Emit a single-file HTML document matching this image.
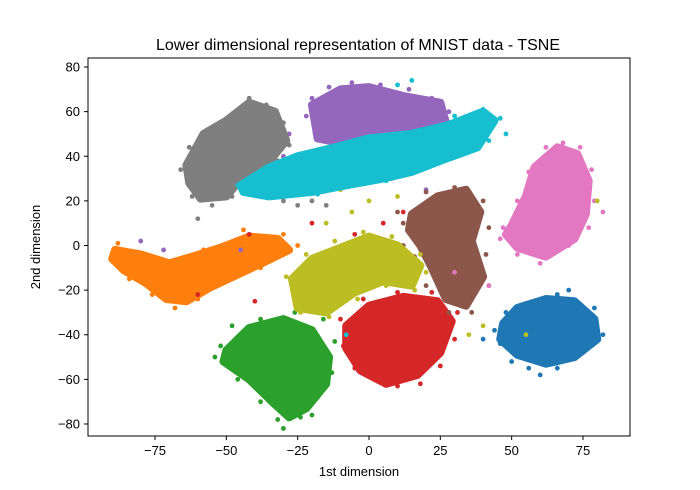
<!DOCTYPE html>
<html><head><meta charset="utf-8"><style>
html,body{margin:0;padding:0;background:#fff;}
svg{display:block;font-family:"Liberation Sans","DejaVu Sans",sans-serif;}
</style></head><body>
<svg id="chart" width="700" height="490" viewBox="0 0 700 490">
<rect width="700" height="490" fill="#fff"/>
<text x="358" y="50" text-anchor="middle" font-size="16" fill="#000">Lower dimensional representation of MNIST data - TSNE</text>
<g id="marks"></g>
<rect x="88" y="58" width="542" height="378" fill="none" stroke="#000" stroke-width="1"/>
<g id="xticks"></g>
<g id="yticks"></g>
<text x="359" y="476" text-anchor="middle" font-size="13">1st dimension</text>
<text x="0" y="0" transform="translate(40,247) rotate(-90)" text-anchor="middle" font-size="13">2nd dimension</text>
</svg>
<script>
const digits = [0,1,2,3,4,5,6,7,8,9];
const colors = ["#1f77b4","#ff7f0e","#2ca02c","#d62728","#9467bd","#8c564b","#e377c2","#7f7f7f","#bcbd22","#17becf"];
const xTickValues = [-75,-50,-25,0,25,50,75];
const yTickValues = [-80,-60,-40,-20,0,20,40,60,80];
// cluster outlines (data coords)
const hull0 = [[47,-35],[52,-28],[62,-24],[72,-25],[79,-33],[80,-42],[72,-50],[62,-53],[52,-49],[46,-42]];
const hull1 = [[-89,-2],[-80,-4],[-70,-8],[-62,-5],[-52,-1],[-42,4],[-32,3],[-28,-2],[-36,-7],[-46,-13],[-56,-19],[-64,-25],[-71,-24],[-78,-17],[-86,-11],[-90,-6]];
const hull2 = [[-50,-47],[-42,-37],[-30,-33],[-20,-38],[-14,-50],[-15,-62],[-22,-73],[-28,-77],[-34,-70],[-42,-60],[-51,-52]];
const hull3 = [[-8,-36],[0,-27],[12,-23],[24,-25],[29,-34],[25,-48],[17,-58],[6,-62],[-3,-56],[-8,-46]];
const hull4 = [[-20,63],[-10,70],[0,71],[12,67],[25,64],[27,55],[18,47],[6,50],[-6,45],[-18,48]];
const hull5 = [[15,14],[24,22],[34,25],[39,15],[36,2],[40,-14],[34,-27],[27,-24],[22,-10],[18,0],[14,7]];
const hull6 = [[50,9],[55,22],[58,35],[66,44],[73,41],[77,29],[76,14],[72,3],[62,-5],[52,-1],[48,5]];
const hull7 = [[-64,36],[-58,50],[-50,56],[-42,64],[-33,60],[-29,47],[-36,36],[-44,31],[-50,22],[-59,21],[-63,28]];
const hull8 = [[-27,-15],[-20,-6],[-10,-1],[0,4],[10,0],[18,-9],[15,-18],[5,-16],[-5,-21],[-15,-30],[-25,-28]];
const hull9 = [[-45,27],[-35,35],[-25,40],[-12,44],[0,48],[15,50],[28,54],[40,60],[44,56],[38,44],[25,38],[15,33],[5,30],[-8,27],[-20,24],[-35,22],[-44,24]];
const hulls = [hull0,hull1,hull2,hull3,hull4,hull5,hull6,hull7,hull8,hull9];
// scattered / edge points per digit (data coords)
const pts0 = [[44,-38],[46,-44],[50,-52],[56,-55],[66,-55],[75,-48],[82,-40],[79,-28],[66,-22],[55,-26],[48,-30],[60,-58],[40,-42],[70,-20]];
const pts1 = [[-88,1],[-84,-15],[-76,-22],[-68,-28],[-60,-24],[-50,-14],[-38,-10],[-30,5],[-25,0],[-44,7],[-35,2],[-58,-2],[-74,-20]];
const pts2 = [[-52,-45],[-48,-36],[-38,-33],[-26,-30],[-16,-33],[-12,-43],[-13,-57],[-18,-68],[-24,-77],[-32,-78],[-38,-70],[-46,-60],[-54,-50],[-30,-82],[-20,-76]];
const pts3 = [[-10,-33],[-9,-45],[-5,-55],[2,-60],[10,-63],[18,-62],[25,-54],[30,-42],[31,-30],[22,-21],[10,-21],[-2,-24],[-40,-25],[-25,-22],[0,0],[-5,5],[5,10],[15,-12],[-20,10],[-60,-22],[12,15],[-42,5]];
const pts4 = [[-22,58],[-20,66],[-14,71],[-6,73],[4,72],[14,70],[22,66],[28,60],[30,52],[22,47],[-8,47],[-28,50],[-30,40],[-45,-2],[-80,2],[-72,-2],[8,30],[20,25]];
const pts5 = [[12,10],[20,24],[30,26],[40,20],[42,8],[41,-4],[42,-18],[36,-30],[28,-30],[20,-18],[16,-5],[12,0],[10,15]];
const pts6 = [[47,8],[52,20],[56,33],[62,44],[68,46],[74,44],[78,34],[79,20],[77,8],[70,0],[60,-8],[52,-4],[46,3],[82,15],[30,-12],[42,-18]];
const pts7 = [[-66,34],[-63,44],[-56,52],[-48,58],[-42,66],[-36,63],[-30,55],[-28,45],[-32,38],[-40,30],[-48,22],[-55,18],[-62,22],[-60,12],[-30,20],[-25,18],[-20,20],[-15,18]];
const pts8 = [[-29,-14],[-22,-4],[-12,2],[-2,6],[8,4],[18,-4],[20,-12],[16,-20],[6,-18],[-4,-24],[-14,-32],[-24,-30],[-6,15],[-15,10],[0,20],[10,22],[-10,25],[40,-36],[35,-40],[55,-40],[80,20]];
const pts9 = [[-46,27],[-38,32],[-28,37],[-16,42],[-4,46],[8,49],[20,52],[30,58],[40,61],[46,57],[42,47],[30,42],[18,36],[6,29],[-6,27],[-18,23],[-32,23],[-44,24],[15,74],[10,72],[48,50],[-8,-40]];
const points = [pts0,pts1,pts2,pts3,pts4,pts5,pts6,pts7,pts8,pts9];

const X0=369, XS=2.853, Y0=245.5, YS=2.231;
function xScale(v){return X0+v*XS;}
function yScale(v){return Y0-v*YS;}
const NS="http://www.w3.org/2000/svg";
const marks=document.getElementById('marks');
digits.forEach(function(d,i){
  const g=document.createElementNS(NS,'g');
  
  
  const poly=document.createElementNS(NS,'polygon');
  poly.setAttribute('points',hulls[i].map(p=>xScale(p[0])+','+yScale(p[1])).join(' '));
  poly.setAttribute('fill',colors[i]);
  poly.setAttribute('stroke',colors[i]);
  poly.setAttribute('stroke-width','8');
  poly.setAttribute('stroke-linejoin','round');
  
  
  g.appendChild(poly);
  points[i].forEach(function(p){
    const c=document.createElementNS(NS,'circle');
    c.setAttribute('cx',xScale(p[0]));
    c.setAttribute('cy',yScale(p[1]));
    c.setAttribute('r','2.4');
    c.setAttribute('fill',colors[i]);
    
    
    g.appendChild(c);
  });
  marks.appendChild(g);
});
const xt=document.getElementById('xticks');
xTickValues.forEach(function(v){
  const x=xScale(v);
  const l=document.createElementNS(NS,'line');
  l.setAttribute('x1',x);l.setAttribute('x2',x);l.setAttribute('y1',436);l.setAttribute('y2',440);
  l.setAttribute('stroke','#000');
  
  
  xt.appendChild(l);
  const t=document.createElementNS(NS,'text');
  t.setAttribute('x',x);t.setAttribute('y',455);t.setAttribute('text-anchor','middle');t.setAttribute('font-size','13');
  t.textContent=v<0?'\u2212'+Math.abs(v):String(v);
  
  
  xt.appendChild(t);
});
const yt=document.getElementById('yticks');
yTickValues.forEach(function(v){
  const y=yScale(v);
  const l=document.createElementNS(NS,'line');
  l.setAttribute('x1',84);l.setAttribute('x2',88);l.setAttribute('y1',y);l.setAttribute('y2',y);
  l.setAttribute('stroke','#000');
  
  
  yt.appendChild(l);
  const t=document.createElementNS(NS,'text');
  t.setAttribute('x',80);t.setAttribute('y',y+4.5);t.setAttribute('text-anchor','end');t.setAttribute('font-size','13');
  t.textContent=v<0?'\u2212'+Math.abs(v):String(v);
  
  
  yt.appendChild(t);
});
</script>
</body></html>
